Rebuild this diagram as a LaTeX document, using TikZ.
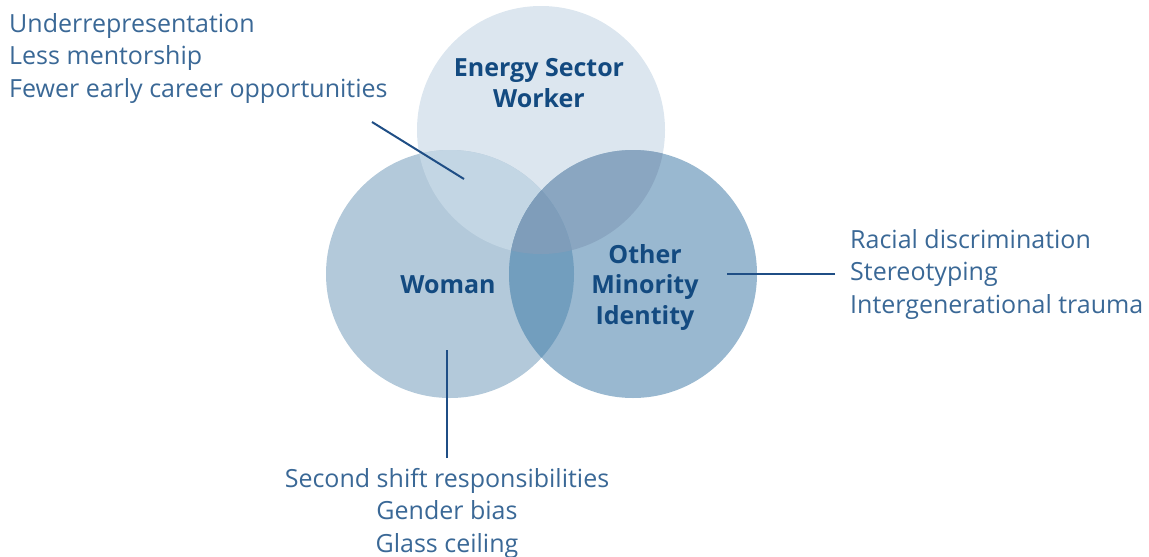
\documentclass[tikz,border=0pt]{standalone}
\usepackage{fontspec}
\setmainfont{Open Sans}
\definecolor{cT}{HTML}{DCE6EF}
\definecolor{cW}{HTML}{B3C9DA}
\definecolor{cO}{HTML}{99B8D0}
\definecolor{cTW}{HTML}{C3D6E4}
\definecolor{cTO}{HTML}{8AA6C1}
\definecolor{cWO}{HTML}{729EBE}
\definecolor{cTWO}{HTML}{7F9DBA}
\definecolor{head}{HTML}{134A80}
\definecolor{listc}{HTML}{3A6896}
\definecolor{linec}{HTML}{1F4E85}
\tikzset{
  head/.style={font=\fontsize{25}{30.5}\selectfont\bfseries, text=head, align=center, inner sep=0pt},
  lst/.style={font=\fontsize{25}{32.5}\selectfont, text=listc, inner sep=0pt},
  conn/.style={draw=linec, line width=2pt}
}
\begin{document}
\begin{tikzpicture}[x=1pt,y=-1pt]
\useasboundingbox (0,0) rectangle (1149,557);
\coordinate (T) at (541,130);
\coordinate (W) at (450,274);
\coordinate (O) at (633,274);
\def\R{124}
\fill[cT] (T) circle[radius=\R];
\fill[cW] (W) circle[radius=\R];
\fill[cO] (O) circle[radius=\R];
\begin{scope}\clip (T) circle[radius=\R]; \fill[cTW] (W) circle[radius=\R]; \end{scope}
\begin{scope}\clip (T) circle[radius=\R]; \fill[cTO] (O) circle[radius=\R]; \end{scope}
\begin{scope}\clip (W) circle[radius=\R]; \fill[cWO] (O) circle[radius=\R]; \end{scope}
\begin{scope}\clip (T) circle[radius=\R]; \clip (W) circle[radius=\R]; \fill[cTWO] (O) circle[radius=\R]; \end{scope}

\node[head, anchor=base] (tT) at (539,107) {Energy Sector\\Worker};
\node[head, anchor=base] (tW) at (448,293) {Woman};
\node[head, anchor=base] (tO) at (645,324) {Other\\Minority\\Identity};

\node[lst, align=left, anchor=base west] (l1) at (9,97) {Underrepresentation\\Less mentorship\\Fewer early career opportunities};
\node[lst, align=center, anchor=base] (l2) at (447,552) {Second shift responsibilities\\Gender bias\\Glass ceiling};
\node[lst, align=left, anchor=base west] (l3) at (850,313) {Racial discrimination\\Stereotyping\\Intergenerational trauma};

\coordinate (a1) at (372,122);
\coordinate (b1) at (464,179);
\coordinate (a2) at (447,458);
\coordinate (b2) at (447,350);
\coordinate (a3) at (835,274);
\coordinate (b3) at (727,274);
\draw[conn] (a1) -- (b1);
\draw[conn] (a2) -- (b2);
\draw[conn] (a3) -- (b3);
\end{tikzpicture}
\end{document}
